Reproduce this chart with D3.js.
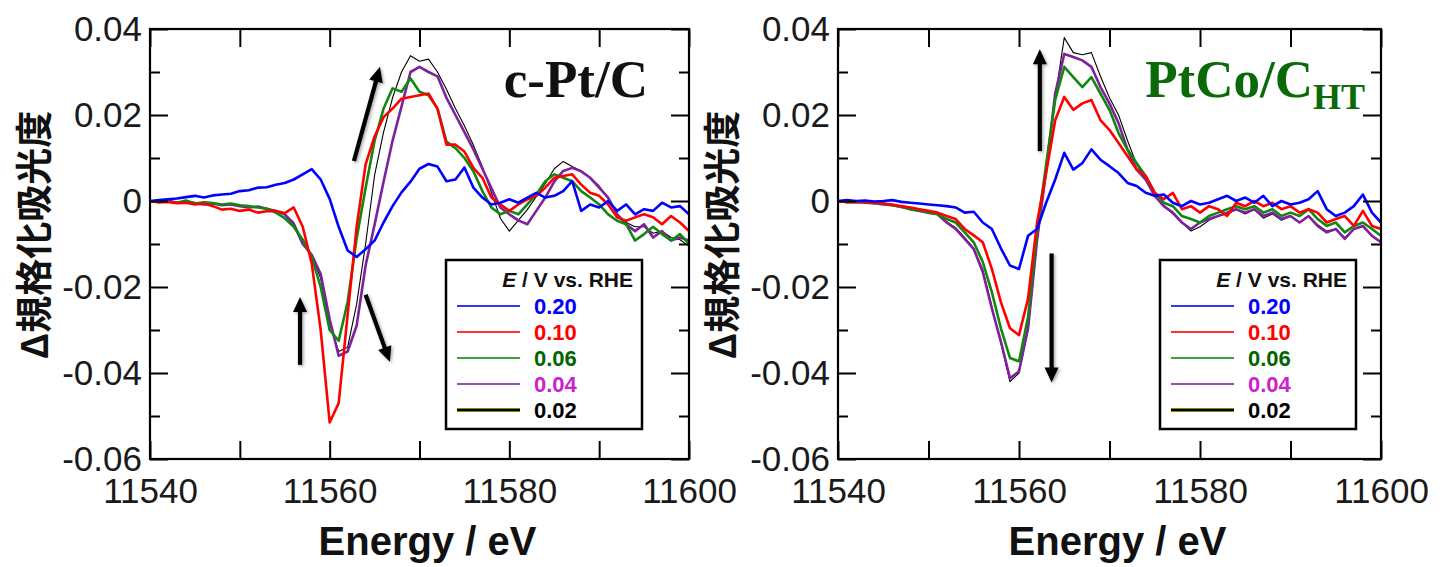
<!DOCTYPE html>
<html>
<head>
<meta charset="utf-8">
<script src="https://cdn.jsdelivr.net/npm/d3@7"></script>
<style>
  body { margin: 0; background: #fff; }
  svg { display: block; }
</style>
</head>
<body>
<div id="chart"></div>
<script>
// Energy grid (eV), shared by every curve.
var energy = [11540, 11541, 11542, 11543, 11544, 11545, 11546, 11547, 11548, 11549,
              11550, 11551, 11552, 11553, 11554, 11555, 11556, 11557, 11558, 11559,
              11560, 11561, 11562, 11563, 11564, 11565, 11566, 11567, 11568, 11569,
              11570, 11571, 11572, 11573, 11574, 11575, 11576, 11577, 11578, 11579,
              11580, 11581, 11582, 11583, 11584, 11585, 11586, 11587, 11588, 11589,
              11590, 11591, 11592, 11593, 11594, 11595, 11596, 11597, 11598, 11599,
              11600];

// Potentials (V vs. RHE) and their colours.
var potentials = ['0.20', '0.10', '0.06', '0.04', '0.02'];
var lineColors = ['#0000ff', '#ff0000', '#108810', '#80209e', '#000000'];
var labelColors = ['#0000ff', '#ff0000', '#006400', '#cc22cc', '#000000'];

// c-Pt/C difference spectra.
var cpt020 = [0, 0.0002, 0.0004, 0.0006, 0.0009, 0.0012, 0.0008, 0.0013, 0.0015, 0.0017,
              0.0023, 0.0025, 0.0031, 0.0032, 0.0038, 0.0042, 0.0050, 0.0062, 0.0074, 0.0050,
              0.0005, -0.0060, -0.0115, -0.0130, -0.0112, -0.0092, -0.0050, -0.0012, 0.0020, 0.0045,
              0.0075, 0.0086, 0.0080, 0.0046, 0.0050, 0.0078, 0.0031, 0.0008, -0.0008, -0.0004,
              0.0004, -0.0004, 0.0008, 0.0019, 0.0008, 0.0012, 0.0023, 0.0046, -0.0023, -0.0008,
              -0.0015, 0, -0.0023, -0.0008, -0.0031, -0.0019, -0.0023, -0.0004, -0.0015, -0.0012,
              -0.0031];
var cpt010 = [0, -0.0003, -0.0002, -0.0005, -0.0004, -0.0008, -0.0006, -0.0012, -0.0020, -0.0018,
              -0.0023, -0.0020, -0.0027, -0.0024, -0.0023, -0.0028, -0.0015, -0.0060, -0.0145, -0.0300,
              -0.0515, -0.0470, -0.0265, -0.0060, 0.0085, 0.0150, 0.0195, 0.0215, 0.0238, 0.0242,
              0.0246, 0.0250, 0.0215, 0.0131, 0.0131, 0.0115, 0.0077, 0.0054, 0.0008, -0.0008,
              -0.0023, -0.0008, 0.0004, 0.0012, 0.0031, 0.0054, 0.0058, 0.0062, 0.0038, 0.0019,
              0.0012, -0.0008, -0.0038, -0.0046, -0.0038, -0.0031, -0.0038, -0.0054, -0.0035, -0.0050,
              -0.0070];
var cpt006 = [0, -0.0002, -0.0001, -0.0004, 0.0001, -0.0006, -0.0003, -0.0005, -0.0008, -0.0006,
              -0.0010, -0.0012, -0.0015, -0.0018, -0.0027, -0.0040, -0.0060, -0.0090, -0.0130, -0.0200,
              -0.0300, -0.0325, -0.0235, -0.0088, 0.0030, 0.0140, 0.0215, 0.0262, 0.0254, 0.0285,
              0.0254, 0.0246, 0.0215, 0.0138, 0.0123, 0.0100, 0.0069, 0.0023, -0.0015, -0.0031,
              -0.0023, -0.0031, -0.0008, 0.0015, 0.0046, 0.0062, 0.0054, 0.0046, 0.0023, 0.0008,
              -0.0008, -0.0031, -0.0046, -0.0054, -0.0092, -0.0077, -0.0060, -0.0077, -0.0092, -0.0077,
              -0.0100];
var cpt004 = [0, -0.0003, 0.0001, -0.0004, -0.0002, -0.0005, -0.0008, -0.0006, -0.0010, -0.0008,
              -0.0012, -0.0015, -0.0013, -0.0018, -0.0023, -0.0031, -0.0054, -0.0100, -0.0125, -0.0170,
              -0.0275, -0.0360, -0.0350, -0.0290, -0.0150, -0.0055, 0.0045, 0.0140, 0.0220, 0.0300,
              0.0312, 0.0300, 0.0290, 0.0240, 0.0200, 0.0160, 0.0120, 0.0075, 0.0030, -0.0015,
              -0.0031, -0.0045, -0.0054, -0.0023, 0.0008, 0.0045, 0.0070, 0.0077, 0.0069, 0.0054,
              0.0031, 0.0008, -0.0031, -0.0054, -0.0070, -0.0054, -0.0085, -0.0070, -0.0092, -0.0085,
              -0.0092];
var cpt002 = [0, -0.0002, -0.0001, -0.0004, -0.0003, -0.0006, -0.0007, -0.0006, -0.0009, -0.0008,
              -0.0011, -0.0014, -0.0014, -0.0018, -0.0022, -0.0030, -0.0050, -0.0095, -0.0125, -0.0180,
              -0.0285, -0.0350, -0.0340, -0.0240, -0.0100, 0.0060, 0.0160, 0.0240, 0.0300, 0.0338,
              0.0325, 0.0330, 0.0300, 0.0260, 0.0215, 0.0175, 0.0130, 0.0080, 0.0020, -0.0040,
              -0.0070, -0.0045, -0.0020, 0.0010, 0.0040, 0.0075, 0.0092, 0.0080, 0.0070, 0.0055,
              0.0035, 0.0005, -0.0030, -0.0050, -0.0060, -0.0060, -0.0075, -0.0070, -0.0085, -0.0090,
              -0.0105];

// PtCo/C_HT difference spectra.
var ptco020 = [0, 0.0002, 0, 0.0001, -0.0001, 0, 0.0002, -0.0002, -0.0004, -0.0006,
               -0.0008, -0.0010, -0.0012, -0.0015, -0.0027, -0.0025, -0.0050, -0.0065, -0.0110, -0.0150,
               -0.0158, -0.0081, -0.0065, -0.0004, 0.0050, 0.0112, 0.0073, 0.0088, 0.0120, 0.0096,
               0.0081, 0.0065, 0.0042, 0.0035, 0.0019, 0.0012, 0.0015, -0.0004, -0.0012, 0,
               -0.0008, -0.0004, 0.0004, 0.0012, 0, 0.0008, -0.0004, 0.0012, -0.0012, 0,
               -0.0008, -0.0004, 0.0004, 0.0023, -0.0019, -0.0035, -0.0027, -0.0012, 0.0015, -0.0027,
               -0.0050];
var ptco010 = [0, -0.0002, -0.0001, -0.0003, -0.0004, -0.0006, -0.0008, -0.0012, -0.0015, -0.0019,
               -0.0023, -0.0027, -0.0035, -0.0042, -0.0065, -0.0080, -0.0096, -0.0158, -0.0235, -0.0296,
               -0.0312, -0.0227, -0.0050, 0.0065, 0.0188, 0.0242, 0.0212, 0.0227, 0.0235, 0.0188,
               0.0165, 0.0135, 0.0104, 0.0073, 0.0058, 0.0019, 0.0004, 0.0019, -0.0019, -0.0012,
               -0.0027, -0.0012, -0.0019, -0.0035, -0.0004, -0.0012, 0, -0.0012, -0.0004, -0.0019,
               -0.0012, -0.0027, -0.0019, -0.0027, -0.0050, -0.0042, -0.0035, -0.0058, -0.0023, -0.0058,
               -0.0065];
var ptco006 = [0, -0.0002, -0.0003, -0.0002, -0.0005, -0.0006, -0.0010, -0.0013, -0.0019, -0.0022,
               -0.0027, -0.0030, -0.0042, -0.0050, -0.0073, -0.0096, -0.0142, -0.0212, -0.0296, -0.0365,
               -0.0373, -0.0270, -0.0070, 0.0085, 0.0235, 0.0312, 0.0288, 0.0265, 0.0288, 0.0250,
               0.0212, 0.0158, 0.0119, 0.0088, 0.0058, 0.0019, -0.0004, -0.0012, -0.0035, -0.0042,
               -0.0050, -0.0035, -0.0027, -0.0019, -0.0012, -0.0019, -0.0012, -0.0027, -0.0019, -0.0035,
               -0.0027, -0.0035, -0.0019, -0.0042, -0.0058, -0.0050, -0.0073, -0.0058, -0.0050, -0.0065,
               -0.0081];
var ptco004 = [0, -0.0003, -0.0002, -0.0004, -0.0005, -0.0008, -0.0010, -0.0014, -0.0019, -0.0023,
               -0.0027, -0.0031, -0.0050, -0.0065, -0.0088, -0.0112, -0.0165, -0.0250, -0.0327, -0.0412,
               -0.0396, -0.0296, -0.0090, 0.0070, 0.0250, 0.0342, 0.0335, 0.0327, 0.0312, 0.0265,
               0.0227, 0.0181, 0.0119, 0.0073, 0.0050, 0.0012, -0.0012, -0.0027, -0.0050, -0.0065,
               -0.0050, -0.0042, -0.0035, -0.0027, -0.0019, -0.0027, -0.0019, -0.0035, -0.0027, -0.0042,
               -0.0035, -0.0050, -0.0035, -0.0058, -0.0073, -0.0065, -0.0088, -0.0065, -0.0058, -0.0081,
               -0.0096];
var ptco002 = [0, -0.0002, -0.0002, -0.0004, -0.0005, -0.0007, -0.0010, -0.0013, -0.0018, -0.0022,
               -0.0026, -0.0031, -0.0048, -0.0062, -0.0085, -0.0110, -0.0160, -0.0245, -0.0330, -0.0420,
               -0.0400, -0.0300, -0.0095, 0.0065, 0.0240, 0.0380, 0.0345, 0.0340, 0.0345, 0.0290,
               0.0240, 0.0200, 0.0140, 0.0085, 0.0050, 0.0012, -0.0010, -0.0030, -0.0050, -0.0070,
               -0.0060, -0.0045, -0.0035, -0.0030, -0.0020, -0.0030, -0.0020, -0.0040, -0.0030, -0.0045,
               -0.0035, -0.0050, -0.0035, -0.0055, -0.0070, -0.0065, -0.0085, -0.0065, -0.0060, -0.0080,
               -0.0095];

// Ticks and their labels ('' = unlabelled tick).
var xTicks = [11540, 11550, 11560, 11570, 11580, 11590, 11600];
var xTickLabels = ['11540', '', '11560', '', '11580', '', '11600'];
var yTicks = [0.04, 0.03, 0.02, 0.01, 0, -0.01, -0.02, -0.03, -0.04, -0.05, -0.06];
var yTickLabels = ['0.04', '', '0.02', '', '0', '', '-0.02', '', '-0.04', '', '-0.06'];

// Arrows, in data units: [E start, value start, E end (tip), value end (tip)].
var cptArrows = [[11562.7, 0.0093, 11565.6, 0.0312],
                 [11556.7, -0.0381, 11556.7, -0.0223],
                 [11564.0, -0.0218, 11566.7, -0.0374]];
var ptcoArrows = [[11562.3, 0.0116, 11562.3, 0.0353],
                  [11563.6, -0.0122, 11563.6, -0.0422]];

var plotTop = 29, plotBottom = 459;

var svg = d3.select('#chart')
    .append('svg')
        .attr('width', 1449)
        .attr('height', 567);

var defs = svg.append('defs');

// Soft shadow under the arrows (user space, so vertical arrows keep it).
defs.append('filter')
    .attr('id', 'shadow')
    .attr('filterUnits', 'userSpaceOnUse')
    .attr('x', 0).attr('y', 0).attr('width', 1449).attr('height', 567)
  .append('feDropShadow')
    .attr('dx', 1.5).attr('dy', 1.5).attr('stdDeviation', 1.6)
    .attr('flood-color', '#000').attr('flood-opacity', 0.35);

function drawPanel(p) {
    var x = d3.scaleLinear().domain([11540, 11600]).range([p.left, p.right]);
    var y = d3.scaleLinear().domain([-0.06, 0.04]).range([plotBottom, plotTop]);

    var g = svg.append('g');

    defs.append('clipPath').attr('id', 'clip-' + p.id)
      .append('rect')
        .attr('x', p.left).attr('y', plotTop)
        .attr('width', p.right - p.left).attr('height', plotBottom - plotTop);

    // Curves: black first, blue last.
    var line = d3.line()
        .x(function(d, i){ return x(energy[i]); })
        .y(function(d){ return y(d); });

    var curves = g.append('g').attr('clip-path', 'url(#clip-' + p.id + ')');
    [4, 3, 2, 1, 0].forEach(function(k){
        curves.append('path')
            .attr('d', line(p.series[k]))
            .attr('fill', 'none')
            .attr('stroke', lineColors[k])
            .attr('stroke-width', k === 4 ? 1.1 : 2.6)
            .attr('stroke-linejoin', 'round');
    });

    // Axes with inward ticks on all four sides.
    var xFormat = function(d, i){ return xTickLabels[i]; };
    var yFormat = function(d, i){ return yTickLabels[i]; };

    function styleAxis(sel) {
        sel.select('.domain').remove();
        sel.selectAll('line').attr('stroke', '#000').attr('stroke-width', 2);
        sel.selectAll('text')
            .attr('fill', '#1a1a1a')
            .style('font', '35px "Liberation Sans", Arial, sans-serif');
    }

    g.append('g')
        .attr('transform', 'translate(0,' + plotBottom + ')')
        .call(d3.axisBottom(x).tickValues(xTicks).tickSize(-18).tickPadding(19).tickFormat(xFormat))
        .call(styleAxis);
    g.append('g')
        .attr('transform', 'translate(0,' + plotTop + ')')
        .call(d3.axisTop(x).tickValues(xTicks).tickSize(-18).tickFormat(''))
        .call(styleAxis);

    var left = g.append('g')
        .attr('transform', 'translate(' + p.left + ',0)')
        .call(d3.axisLeft(y).tickValues(yTicks).tickSize(-18).tickPadding(8).tickFormat(yFormat))
        .call(styleAxis);
    var right = g.append('g')
        .attr('transform', 'translate(' + p.right + ',0)')
        .call(d3.axisRight(y).tickValues(yTicks).tickSize(-18).tickFormat(''))
        .call(styleAxis);
    // Minor y ticks are shorter.
    left.selectAll('.tick line').attr('x2', function(d, i){ return yTickLabels[i] === '' ? 10 : 18; });
    right.selectAll('.tick line').attr('x2', function(d, i){ return yTickLabels[i] === '' ? -10 : -18; });

    // Frame.
    g.append('rect')
        .attr('x', p.left).attr('y', plotTop)
        .attr('width', p.right - p.left).attr('height', plotBottom - plotTop)
        .attr('fill', 'none').attr('stroke', '#000').attr('stroke-width', 2.2);

    // Axis titles.
    g.append('text')
        .attr('x', (p.left + p.right) / 2 + 8)
        .attr('y', 555)
        .attr('text-anchor', 'middle')
        .style('font', 'bold 40px "Liberation Sans", Arial, sans-serif')
        .attr('fill', '#111')
        .text('Energy / eV');

    g.append('text')
        .attr('transform', 'translate(' + (p.left - 115) + ',235) rotate(-90)')
        .attr('text-anchor', 'middle')
        .attr('dy', '0.36em')
        .style('font', 'bold 37px "Noto Sans CJK JP", sans-serif')
        .attr('fill', '#111')
        .text('Δ規格化吸光度');

    // Sample name.
    var title = g.append('text')
        .attr('x', p.right - p.titleInset)
        .attr('y', 97)
        .attr('text-anchor', 'end')
        .attr('fill', p.titleColor)
        .style('font', 'bold 53px "Liberation Serif", "Times New Roman", serif');
    title.append('tspan').text(p.title);
    if (p.sub) {
        title.append('tspan')
            .attr('dy', 12)
            .style('font-size', '36px')
            .text(p.sub);
    }

    // Arrows: shaft plus a filled head whose tip sits on the end point.
    p.arrows.forEach(function(a){
        var x1 = x(a[0]), y1 = y(a[1]), x2 = x(a[2]), y2 = y(a[3]);
        var len = Math.hypot(x2 - x1, y2 - y1);
        var ux = (x2 - x1) / len, uy = (y2 - y1) / len;
        var headLen = 15, headHalf = 7;
        var bx = x2 - ux * headLen, by = y2 - uy * headLen;
        var arrow = g.append('g').attr('filter', 'url(#shadow)');
        arrow.append('line')
            .attr('x1', x1).attr('y1', y1)
            .attr('x2', bx + ux * 2).attr('y2', by + uy * 2)
            .attr('stroke', '#000')
            .attr('stroke-width', 4.2);
        arrow.append('path')
            .attr('d', 'M' + x2 + ',' + y2 +
                       'L' + (bx - uy * headHalf) + ',' + (by + ux * headHalf) +
                       'L' + (bx + uy * headHalf) + ',' + (by - ux * headHalf) + 'Z')
            .attr('fill', '#000');
    });

    // Legend.
    var lx = p.legendX, ly = 260, lw = 196, lh = 169;
    var lg = g.append('g');
    lg.append('rect')
        .attr('x', lx).attr('y', ly).attr('width', lw).attr('height', lh)
        .attr('fill', '#fff').attr('stroke', '#000').attr('stroke-width', 2.5);
    var head = lg.append('text')
        .attr('x', lx + lw - 9).attr('y', ly + 27)
        .attr('text-anchor', 'end')
        .attr('fill', '#111')
        .style('font', 'bold 21px "Liberation Sans", Arial, sans-serif');
    head.append('tspan').style('font-style', 'italic').text('E');
    head.append('tspan').text(' / V vs. RHE');

    potentials.forEach(function(v, k){
        var cy = ly + 46 + k * 26;
        if (k === 4) {
            lg.append('line')
                .attr('x1', lx + 11).attr('x2', lx + 74).attr('y1', cy).attr('y2', cy)
                .attr('stroke', '#8a8a00').attr('stroke-width', 4);
        }
        lg.append('line')
            .attr('x1', lx + 11).attr('x2', lx + 74).attr('y1', cy).attr('y2', cy)
            .attr('stroke', lineColors[k])
            .attr('stroke-opacity', k === 4 ? 1 : 0.8)
            .attr('stroke-width', k === 4 ? 2 : 2.2);
        lg.append('text')
            .attr('x', lx + 88).attr('y', cy + 8)
            .attr('fill', labelColors[k])
            .style('font', 'bold 22px "Liberation Sans", Arial, sans-serif')
            .text(v);
    });
}

drawPanel({
    id: 'cpt', left: 150, right: 689,
    series: [cpt020, cpt010, cpt006, cpt004, cpt002],
    title: 'c-Pt/C', sub: null, titleColor: '#111', titleInset: 41,
    arrows: cptArrows, legendX: 446
});

drawPanel({
    id: 'ptco', left: 838, right: 1381,
    series: [ptco020, ptco010, ptco006, ptco004, ptco002],
    title: 'PtCo/C', sub: 'HT', titleColor: '#0a6a0a', titleInset: 16,
    arrows: ptcoArrows, legendX: 1160
});
</script>
</body>
</html>
